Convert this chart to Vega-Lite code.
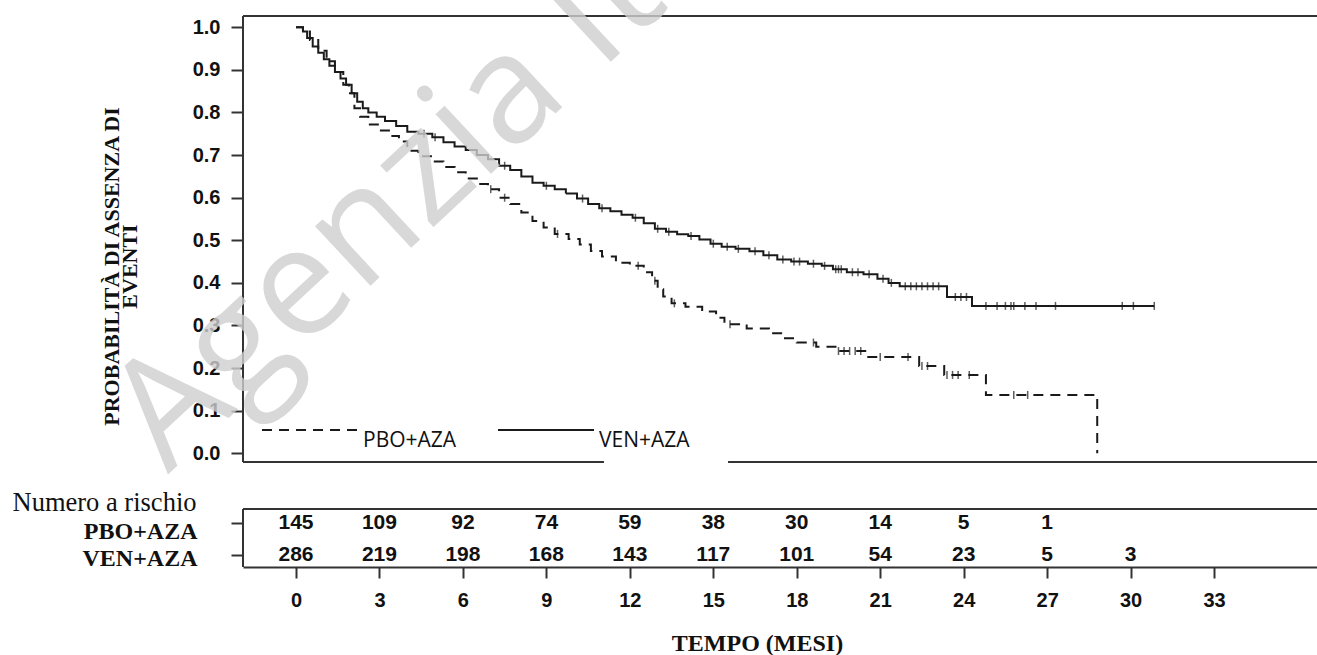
{
  "$schema": "https://vega.github.io/schema/vega-lite/v6.json",
  "width": 1074,
  "height": 551,
  "autosize": {"type": "none"},
  "padding": {"left": 243, "top": 16, "right": 0, "bottom": 88},
  "background": "white",
  "config": {"view": {"stroke": null}, "axis": {"grid": false}},
  "datasets": {
    "km": [
      {"arm": "VEN+AZA", "t": 0, "S": 1.0}, {"arm": "VEN+AZA", "t": 0.25, "S": 0.99}, {"arm": "VEN+AZA", "t": 0.4, "S": 0.975}, {"arm": "VEN+AZA", "t": 0.6, "S": 0.955},
      {"arm": "VEN+AZA", "t": 0.8, "S": 0.94}, {"arm": "VEN+AZA", "t": 1.0, "S": 0.925}, {"arm": "VEN+AZA", "t": 1.2, "S": 0.91}, {"arm": "VEN+AZA", "t": 1.4, "S": 0.895},
      {"arm": "VEN+AZA", "t": 1.6, "S": 0.88}, {"arm": "VEN+AZA", "t": 1.8, "S": 0.865}, {"arm": "VEN+AZA", "t": 2.0, "S": 0.845}, {"arm": "VEN+AZA", "t": 2.2, "S": 0.825},
      {"arm": "VEN+AZA", "t": 2.4, "S": 0.81}, {"arm": "VEN+AZA", "t": 2.6, "S": 0.8}, {"arm": "VEN+AZA", "t": 2.9, "S": 0.79}, {"arm": "VEN+AZA", "t": 3.2, "S": 0.78},
      {"arm": "VEN+AZA", "t": 3.6, "S": 0.768}, {"arm": "VEN+AZA", "t": 4.0, "S": 0.755}, {"arm": "VEN+AZA", "t": 4.4, "S": 0.75}, {"arm": "VEN+AZA", "t": 4.9, "S": 0.742},
      {"arm": "VEN+AZA", "t": 5.3, "S": 0.73}, {"arm": "VEN+AZA", "t": 5.7, "S": 0.72}, {"arm": "VEN+AZA", "t": 6.1, "S": 0.712}, {"arm": "VEN+AZA", "t": 6.5, "S": 0.7},
      {"arm": "VEN+AZA", "t": 6.9, "S": 0.69}, {"arm": "VEN+AZA", "t": 7.3, "S": 0.675}, {"arm": "VEN+AZA", "t": 7.7, "S": 0.665}, {"arm": "VEN+AZA", "t": 8.1, "S": 0.65},
      {"arm": "VEN+AZA", "t": 8.5, "S": 0.635}, {"arm": "VEN+AZA", "t": 8.9, "S": 0.628}, {"arm": "VEN+AZA", "t": 9.3, "S": 0.62}, {"arm": "VEN+AZA", "t": 9.7, "S": 0.61},
      {"arm": "VEN+AZA", "t": 10.1, "S": 0.598}, {"arm": "VEN+AZA", "t": 10.5, "S": 0.585}, {"arm": "VEN+AZA", "t": 10.9, "S": 0.575}, {"arm": "VEN+AZA", "t": 11.3, "S": 0.568},
      {"arm": "VEN+AZA", "t": 11.7, "S": 0.56}, {"arm": "VEN+AZA", "t": 12.1, "S": 0.553}, {"arm": "VEN+AZA", "t": 12.5, "S": 0.54}, {"arm": "VEN+AZA", "t": 12.9, "S": 0.527},
      {"arm": "VEN+AZA", "t": 13.3, "S": 0.52}, {"arm": "VEN+AZA", "t": 13.7, "S": 0.514}, {"arm": "VEN+AZA", "t": 14.1, "S": 0.51}, {"arm": "VEN+AZA", "t": 14.5, "S": 0.502},
      {"arm": "VEN+AZA", "t": 14.9, "S": 0.492}, {"arm": "VEN+AZA", "t": 15.3, "S": 0.485}, {"arm": "VEN+AZA", "t": 15.8, "S": 0.48}, {"arm": "VEN+AZA", "t": 16.3, "S": 0.474},
      {"arm": "VEN+AZA", "t": 16.8, "S": 0.465}, {"arm": "VEN+AZA", "t": 17.3, "S": 0.455}, {"arm": "VEN+AZA", "t": 17.8, "S": 0.45}, {"arm": "VEN+AZA", "t": 18.4, "S": 0.445},
      {"arm": "VEN+AZA", "t": 18.9, "S": 0.44}, {"arm": "VEN+AZA", "t": 19.3, "S": 0.432}, {"arm": "VEN+AZA", "t": 19.8, "S": 0.425}, {"arm": "VEN+AZA", "t": 20.4, "S": 0.42},
      {"arm": "VEN+AZA", "t": 20.9, "S": 0.41}, {"arm": "VEN+AZA", "t": 21.3, "S": 0.4}, {"arm": "VEN+AZA", "t": 21.7, "S": 0.392}, {"arm": "VEN+AZA", "t": 23.4, "S": 0.367},
      {"arm": "VEN+AZA", "t": 24.3, "S": 0.346}, {"arm": "VEN+AZA", "t": 30.85, "S": 0.346},
      {"arm": "PBO+AZA", "t": 0, "S": 1.0}, {"arm": "PBO+AZA", "t": 0.25, "S": 0.99}, {"arm": "PBO+AZA", "t": 0.5, "S": 0.97}, {"arm": "PBO+AZA", "t": 0.8, "S": 0.945},
      {"arm": "PBO+AZA", "t": 1.1, "S": 0.92}, {"arm": "PBO+AZA", "t": 1.4, "S": 0.895}, {"arm": "PBO+AZA", "t": 1.7, "S": 0.865}, {"arm": "PBO+AZA", "t": 1.9, "S": 0.845},
      {"arm": "PBO+AZA", "t": 2.1, "S": 0.81}, {"arm": "PBO+AZA", "t": 2.3, "S": 0.79}, {"arm": "PBO+AZA", "t": 2.6, "S": 0.772}, {"arm": "PBO+AZA", "t": 3.0, "S": 0.758},
      {"arm": "PBO+AZA", "t": 3.4, "S": 0.745}, {"arm": "PBO+AZA", "t": 3.7, "S": 0.732}, {"arm": "PBO+AZA", "t": 4.0, "S": 0.71}, {"arm": "PBO+AZA", "t": 4.4, "S": 0.697},
      {"arm": "PBO+AZA", "t": 4.9, "S": 0.685}, {"arm": "PBO+AZA", "t": 5.3, "S": 0.672}, {"arm": "PBO+AZA", "t": 5.7, "S": 0.66}, {"arm": "PBO+AZA", "t": 6.1, "S": 0.645},
      {"arm": "PBO+AZA", "t": 6.5, "S": 0.632}, {"arm": "PBO+AZA", "t": 6.9, "S": 0.62}, {"arm": "PBO+AZA", "t": 7.3, "S": 0.6}, {"arm": "PBO+AZA", "t": 7.7, "S": 0.585},
      {"arm": "PBO+AZA", "t": 8.1, "S": 0.565}, {"arm": "PBO+AZA", "t": 8.5, "S": 0.545}, {"arm": "PBO+AZA", "t": 8.9, "S": 0.53}, {"arm": "PBO+AZA", "t": 9.3, "S": 0.515},
      {"arm": "PBO+AZA", "t": 9.8, "S": 0.503}, {"arm": "PBO+AZA", "t": 10.2, "S": 0.49}, {"arm": "PBO+AZA", "t": 10.6, "S": 0.475}, {"arm": "PBO+AZA", "t": 11.0, "S": 0.462},
      {"arm": "PBO+AZA", "t": 11.5, "S": 0.447}, {"arm": "PBO+AZA", "t": 12.0, "S": 0.44}, {"arm": "PBO+AZA", "t": 12.5, "S": 0.425}, {"arm": "PBO+AZA", "t": 12.8, "S": 0.405},
      {"arm": "PBO+AZA", "t": 13.0, "S": 0.385}, {"arm": "PBO+AZA", "t": 13.2, "S": 0.368}, {"arm": "PBO+AZA", "t": 13.5, "S": 0.352}, {"arm": "PBO+AZA", "t": 14.0, "S": 0.344},
      {"arm": "PBO+AZA", "t": 14.6, "S": 0.333}, {"arm": "PBO+AZA", "t": 15.1, "S": 0.318}, {"arm": "PBO+AZA", "t": 15.4, "S": 0.303}, {"arm": "PBO+AZA", "t": 16.2, "S": 0.293},
      {"arm": "PBO+AZA", "t": 17.0, "S": 0.282}, {"arm": "PBO+AZA", "t": 17.5, "S": 0.27}, {"arm": "PBO+AZA", "t": 18.0, "S": 0.26}, {"arm": "PBO+AZA", "t": 18.7, "S": 0.25},
      {"arm": "PBO+AZA", "t": 19.5, "S": 0.24}, {"arm": "PBO+AZA", "t": 20.5, "S": 0.226}, {"arm": "PBO+AZA", "t": 22.4, "S": 0.205}, {"arm": "PBO+AZA", "t": 23.3, "S": 0.184},
      {"arm": "PBO+AZA", "t": 24.8, "S": 0.137}, {"arm": "PBO+AZA", "t": 28.8, "S": 0.0}
    ],
    "censor": [
      {"arm": "VEN+AZA", "t": 4.6, "S": 0.75}, {"arm": "VEN+AZA", "t": 5.0, "S": 0.742}, {"arm": "VEN+AZA", "t": 7.5, "S": 0.675}, {"arm": "VEN+AZA", "t": 9.0, "S": 0.628},
      {"arm": "VEN+AZA", "t": 10.3, "S": 0.598}, {"arm": "VEN+AZA", "t": 11.0, "S": 0.575}, {"arm": "VEN+AZA", "t": 12.2, "S": 0.553}, {"arm": "VEN+AZA", "t": 13.0, "S": 0.527},
      {"arm": "VEN+AZA", "t": 13.4, "S": 0.52}, {"arm": "VEN+AZA", "t": 14.2, "S": 0.51}, {"arm": "VEN+AZA", "t": 15.0, "S": 0.492}, {"arm": "VEN+AZA", "t": 15.5, "S": 0.485},
      {"arm": "VEN+AZA", "t": 15.9, "S": 0.48}, {"arm": "VEN+AZA", "t": 16.5, "S": 0.474}, {"arm": "VEN+AZA", "t": 17.0, "S": 0.465}, {"arm": "VEN+AZA", "t": 17.5, "S": 0.455},
      {"arm": "VEN+AZA", "t": 17.9, "S": 0.45}, {"arm": "VEN+AZA", "t": 18.1, "S": 0.45}, {"arm": "VEN+AZA", "t": 18.6, "S": 0.445}, {"arm": "VEN+AZA", "t": 19.0, "S": 0.44},
      {"arm": "VEN+AZA", "t": 19.4, "S": 0.432}, {"arm": "VEN+AZA", "t": 19.5, "S": 0.432}, {"arm": "VEN+AZA", "t": 19.6, "S": 0.432}, {"arm": "VEN+AZA", "t": 20.0, "S": 0.425},
      {"arm": "VEN+AZA", "t": 20.2, "S": 0.425}, {"arm": "VEN+AZA", "t": 20.6, "S": 0.42}, {"arm": "VEN+AZA", "t": 21.1, "S": 0.41}, {"arm": "VEN+AZA", "t": 21.4, "S": 0.4},
      {"arm": "VEN+AZA", "t": 21.9, "S": 0.392}, {"arm": "VEN+AZA", "t": 22.1, "S": 0.392}, {"arm": "VEN+AZA", "t": 22.3, "S": 0.392}, {"arm": "VEN+AZA", "t": 22.5, "S": 0.392},
      {"arm": "VEN+AZA", "t": 22.7, "S": 0.392}, {"arm": "VEN+AZA", "t": 22.9, "S": 0.392}, {"arm": "VEN+AZA", "t": 23.1, "S": 0.392}, {"arm": "VEN+AZA", "t": 23.7, "S": 0.367},
      {"arm": "VEN+AZA", "t": 23.9, "S": 0.367}, {"arm": "VEN+AZA", "t": 24.1, "S": 0.367}, {"arm": "VEN+AZA", "t": 24.8, "S": 0.346}, {"arm": "VEN+AZA", "t": 25.2, "S": 0.346},
      {"arm": "VEN+AZA", "t": 25.5, "S": 0.346}, {"arm": "VEN+AZA", "t": 25.7, "S": 0.346}, {"arm": "VEN+AZA", "t": 25.8, "S": 0.346}, {"arm": "VEN+AZA", "t": 26.2, "S": 0.346},
      {"arm": "VEN+AZA", "t": 26.6, "S": 0.346}, {"arm": "VEN+AZA", "t": 27.3, "S": 0.346}, {"arm": "VEN+AZA", "t": 29.7, "S": 0.346}, {"arm": "VEN+AZA", "t": 30.1, "S": 0.346},
      {"arm": "VEN+AZA", "t": 30.85, "S": 0.346},
      {"arm": "PBO+AZA", "t": 7.0, "S": 0.62}, {"arm": "PBO+AZA", "t": 7.5, "S": 0.6}, {"arm": "PBO+AZA", "t": 9.4, "S": 0.515}, {"arm": "PBO+AZA", "t": 12.3, "S": 0.44},
      {"arm": "PBO+AZA", "t": 12.9, "S": 0.405}, {"arm": "PBO+AZA", "t": 13.6, "S": 0.352}, {"arm": "PBO+AZA", "t": 15.6, "S": 0.303}, {"arm": "PBO+AZA", "t": 18.6, "S": 0.26},
      {"arm": "PBO+AZA", "t": 19.5, "S": 0.24}, {"arm": "PBO+AZA", "t": 19.7, "S": 0.24}, {"arm": "PBO+AZA", "t": 19.9, "S": 0.24}, {"arm": "PBO+AZA", "t": 20.1, "S": 0.24},
      {"arm": "PBO+AZA", "t": 20.3, "S": 0.24}, {"arm": "PBO+AZA", "t": 21.0, "S": 0.226}, {"arm": "PBO+AZA", "t": 22.0, "S": 0.226}, {"arm": "PBO+AZA", "t": 22.5, "S": 0.205},
      {"arm": "PBO+AZA", "t": 22.7, "S": 0.205}, {"arm": "PBO+AZA", "t": 23.4, "S": 0.184}, {"arm": "PBO+AZA", "t": 23.6, "S": 0.184}, {"arm": "PBO+AZA", "t": 23.8, "S": 0.184},
      {"arm": "PBO+AZA", "t": 24.2, "S": 0.184}, {"arm": "PBO+AZA", "t": 25.8, "S": 0.137}, {"arm": "PBO+AZA", "t": 26.3, "S": 0.137}
    ],
    "risk": [
      {"arm": "PBO+AZA", "t": 0, "n": 145}, {"arm": "PBO+AZA", "t": 3, "n": 109}, {"arm": "PBO+AZA", "t": 6, "n": 92}, {"arm": "PBO+AZA", "t": 9, "n": 74},
      {"arm": "PBO+AZA", "t": 12, "n": 59}, {"arm": "PBO+AZA", "t": 15, "n": 38}, {"arm": "PBO+AZA", "t": 18, "n": 30}, {"arm": "PBO+AZA", "t": 21, "n": 14},
      {"arm": "PBO+AZA", "t": 24, "n": 5}, {"arm": "PBO+AZA", "t": 27, "n": 1},
      {"arm": "VEN+AZA", "t": 0, "n": 286}, {"arm": "VEN+AZA", "t": 3, "n": 219}, {"arm": "VEN+AZA", "t": 6, "n": 198}, {"arm": "VEN+AZA", "t": 9, "n": 168},
      {"arm": "VEN+AZA", "t": 12, "n": 143}, {"arm": "VEN+AZA", "t": 15, "n": 117}, {"arm": "VEN+AZA", "t": 18, "n": 101}, {"arm": "VEN+AZA", "t": 21, "n": 54},
      {"arm": "VEN+AZA", "t": 24, "n": 23}, {"arm": "VEN+AZA", "t": 27, "n": 5}, {"arm": "VEN+AZA", "t": 30, "n": 3}
    ]
  },
  "layer": [
    {
      "layer": [
        {
          "data": {"values": [{}]},
          "mark": {"type": "rule", "color": "#333333", "strokeWidth": 2},
          "encoding": {
            "x": {"datum": -1.905, "type": "quantitative", "scale": {"domain": [-1.905, 36.7], "nice": false, "zero": false}},
            "x2": {"datum": 36.7},
            "y": {"datum": 1.0265, "type": "quantitative", "scale": {"domain": [-0.2669, 1.0265], "nice": false, "zero": false}}
          }
        },
        {
          "data": {"values": [{}]},
          "mark": {"type": "rule", "color": "#333333", "strokeWidth": 2},
          "encoding": {
            "x": {"datum": -1.905, "type": "quantitative", "scale": {"domain": [-1.905, 36.7], "nice": false, "zero": false}},
            "x2": {"datum": 36.7},
            "y": {"datum": -0.0204, "type": "quantitative", "scale": {"domain": [-0.2669, 1.0265], "nice": false, "zero": false}}
          }
        },
        {
          "data": {"values": [{}]},
          "mark": {"type": "rule", "color": "#333333", "strokeWidth": 2},
          "encoding": {
            "x": {"datum": -1.905, "type": "quantitative", "scale": {"domain": [-1.905, 36.7], "nice": false, "zero": false}},
            "y": {"datum": 1.0265, "type": "quantitative", "scale": {"domain": [-0.2669, 1.0265], "nice": false, "zero": false}},
            "y2": {"datum": -0.0204}
          }
        },
        {
          "data": {"values": [{}]},
          "mark": {"type": "rule", "color": "#333333", "strokeWidth": 2},
          "encoding": {
            "x": {"datum": -1.905, "type": "quantitative", "scale": {"domain": [-1.905, 36.7], "nice": false, "zero": false}},
            "x2": {"datum": 36.7},
            "y": {"datum": -0.1308, "type": "quantitative", "scale": {"domain": [-0.2669, 1.0265], "nice": false, "zero": false}}
          }
        },
        {
          "data": {"values": [{}]},
          "mark": {"type": "rule", "color": "#333333", "strokeWidth": 2},
          "encoding": {
            "x": {"datum": -1.905, "type": "quantitative", "scale": {"domain": [-1.905, 36.7], "nice": false, "zero": false}},
            "y": {"datum": -0.1308, "type": "quantitative", "scale": {"domain": [-0.2669, 1.0265], "nice": false, "zero": false}},
            "y2": {"datum": -0.2669}
          }
        },
        {
          "data": {"values": [{}]},
          "mark": {"type": "rect", "color": "white"},
          "encoding": {
            "x": {"datum": 11.07, "type": "quantitative", "scale": {"domain": [-1.905, 36.7], "nice": false, "zero": false}},
            "x2": {"datum": 15.53},
            "y": {"datum": -0.035, "type": "quantitative", "scale": {"domain": [-0.2669, 1.0265], "nice": false, "zero": false}},
            "y2": {"datum": 0.004}
          }
        },
        {
          "data": {"name": "km"},
          "mark": {"type": "line", "interpolate": "step-after", "color": "#1a1a1a", "strokeWidth": 2},
          "encoding": {
            "x": {
              "field": "t", "type": "quantitative",
              "scale": {"domain": [-1.905, 36.7], "nice": false, "zero": false},
              "axis": {
                "orient": "bottom", "values": [0, 3, 6, 9, 12, 15, 18, 21, 24, 27, 30, 33],
                "domain": true, "domainColor": "#333333", "domainWidth": 2,
                "ticks": true, "tickSize": 11, "tickWidth": 2, "tickColor": "#333333",
                "labelFont": "Liberation Sans", "labelFontWeight": "bold", "labelFontSize": 20, "labelColor": "#111111",
                "labelPadding": 12, "labelOverlap": false, "labelFlush": false,
                "title": "TEMPO (MESI)", "titleFont": "Liberation Serif", "titleFontWeight": "bold", "titleFontSize": 24,
                "titleColor": "#111111", "titleX": 514, "titleY": 76, "titleAlign": "center", "titleBaseline": "middle"
              }
            },
            "y": {
              "field": "S", "type": "quantitative",
              "scale": {"domain": [-0.2669, 1.0265], "nice": false, "zero": false},
              "axis": {
                "orient": "left", "values": [0, 0.1, 0.2, 0.3, 0.4, 0.5, 0.6, 0.7, 0.8, 0.9, 1.0], "format": ".1f",
                "domain": false, "ticks": true, "tickSize": 12, "tickWidth": 2, "tickColor": "#333333",
                "labelFont": "Liberation Sans", "labelFontWeight": "bold", "labelFontSize": 20, "labelColor": "#111111",
                "labelPadding": 11, "labelOverlap": false, "labelFlush": false,
                "title": ["PROBABILITÀ DI ASSENZA DI", "\u00a0\u00a0\u00a0\u00a0\u00a0\u00a0\u00a0\u00a0\u00a0\u00a0\u00a0\u00a0\u00a0\u00a0EVENTI"],
                "titleFont": "Liberation Serif", "titleFontWeight": "bold", "titleFontSize": 22, "titleColor": "#111111",
                "titleLineHeight": 18, "titleAngle": 270, "titleX": -132, "titleY": 250, "titleAlign": "center", "titleBaseline": "middle"
              }
            },
            "strokeDash": {
              "field": "arm", "type": "nominal",
              "scale": {"domain": ["PBO+AZA", "VEN+AZA"], "range": [[10, 7], [1, 0]]},
              "legend": {
                "orient": "none", "legendX": 18, "legendY": 365, "direction": "horizontal", "title": null,
                "symbolType": "stroke", "symbolSize": 9216, "symbolStrokeWidth": 2, "symbolStrokeColor": "#1a1a1a",
                "labelFont": "Open Sans", "labelFontSize": 21, "labelColor": "#111111", "labelOffset": 4,
                "labelBaseline": "top", "columnPadding": 37, "padding": 0, "labelLimit": 300
              }
            }
          }
        },
        {
          "data": {"name": "censor"},
          "mark": {"type": "tick", "orient": "vertical", "size": 8, "thickness": 1.5, "color": "#1a1a1a"},
          "encoding": {
            "x": {"field": "t", "type": "quantitative", "scale": {"domain": [-1.905, 36.7], "nice": false, "zero": false}},
            "y": {"field": "S", "type": "quantitative", "scale": {"domain": [-0.2669, 1.0265], "nice": false, "zero": false}}
          }
        },
        {
          "data": {"values": [{}]},
          "mark": {"type": "text", "text": "Agenzia Ita", "font": "Open Sans", "fontSize": 152, "angle": -43, "align": "left", "baseline": "alphabetic", "color": "#cfcfcf", "opacity": 0.8},
          "encoding": {
            "x": {"datum": -4.6, "type": "quantitative", "scale": {"domain": [-1.905, 36.7], "nice": false, "zero": false}},
            "y": {"datum": -0.05, "type": "quantitative", "scale": {"domain": [-0.2669, 1.0265], "nice": false, "zero": false}}
          }
        }
      ]
    },
    {
      "data": {"name": "risk"},
      "mark": {"type": "text", "font": "Liberation Sans", "fontWeight": "bold", "fontSize": 21, "color": "#111111", "baseline": "middle", "align": "center"},
      "encoding": {
        "x": {"field": "t", "type": "quantitative", "scale": {"domain": [-1.905, 36.7], "nice": false, "zero": false}},
        "y": {
          "field": "arm", "type": "nominal",
          "scale": {"type": "point", "domain": ["PBO+AZA", "VEN+AZA"], "range": [506.5, 539], "padding": 0},
          "axis": {
            "orient": "left", "domain": false, "ticks": true, "tickSize": 12, "tickWidth": 2, "tickColor": "#333333",
            "labelFont": "Liberation Serif", "labelFontWeight": "bold", "labelFontSize": 24, "labelColor": "#111111",
            "labelPadding": 34, "labelOffset": {"condition": {"test": "datum.value === 'PBO+AZA'", "value": 9}, "value": 3}, "labelLimit": 400,
            "title": "Numero a rischio", "titleFont": "Liberation Serif", "titleFontWeight": "normal", "titleFontSize": 26.5,
            "titleColor": "#111111", "titleAngle": 0, "titleAlign": "right", "titleBaseline": "middle", "titleX": -47, "titleY": 486
          }
        },
        "text": {"field": "n", "type": "quantitative"}
      }
    }
  ],
  "resolve": {"scale": {"y": "independent"}, "axis": {"y": "independent"}}
}
